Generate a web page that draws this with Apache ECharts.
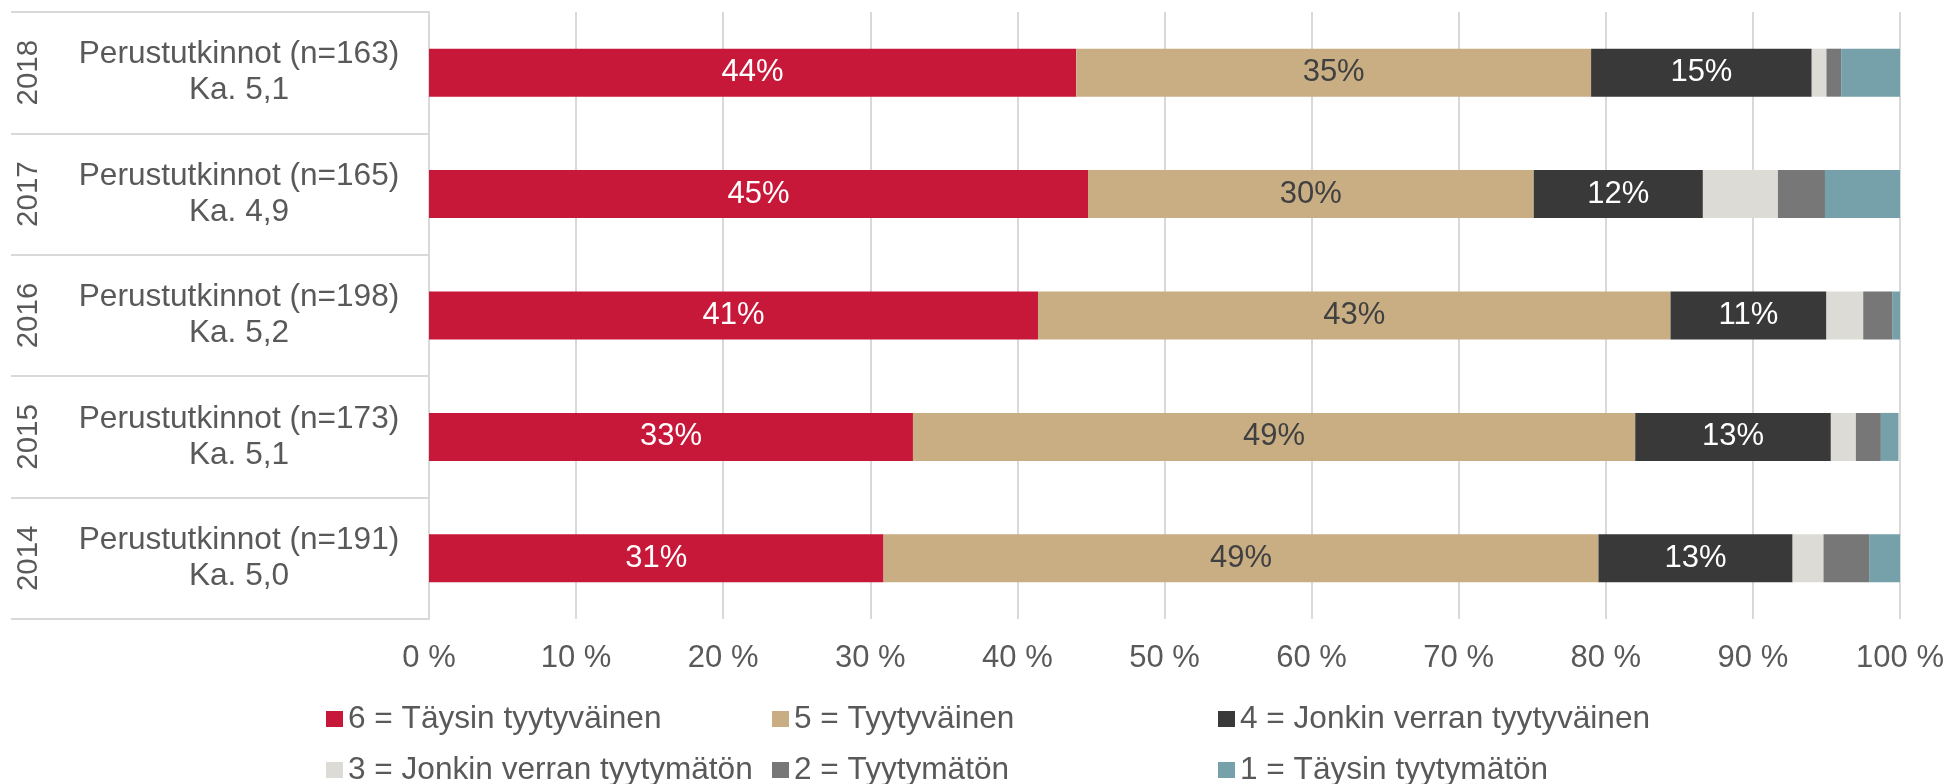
<!DOCTYPE html>
<html>
<head>
<meta charset="utf-8">
<script src="https://cdn.jsdelivr.net/npm/echarts@6/dist/echarts.min.js"></script>
<style>
html,body{margin:0;padding:0;background:#fff;}
#chart{width:1949px;height:784px;}
</style>
</head>
<body>
<div id="chart"></div>
<script>
// ---- data ----
const years = ['2018', '2017', '2016', '2015', '2014'];
const groupName = 'Perustutkinnot';
const nValues = [163, 165, 198, 173, 191];
const means = ['5,1', '4,9', '5,2', '5,1', '5,0'];
const seriesNames = [
  '6 = Täysin tyytyväinen',
  '5 = Tyytyväinen',
  '4 = Jonkin verran tyytyväinen',
  '3 = Jonkin verran tyytymätön',
  '2 = Tyytymätön',
  '1 = Täysin tyytymätön'
];
const s6 = [44.0, 44.8, 41.4, 32.9, 30.9];
const s5 = [35.0, 30.3, 43.0, 49.1, 48.6];
const s4 = [15.0, 11.5, 10.6, 13.3, 13.2];
const s3 = [1.0, 5.1, 2.5, 1.7, 2.1];
const s2 = [1.0, 3.2, 2.0, 1.7, 3.1];
const s1 = [4.0, 5.1, 0.5, 1.2, 2.1];
const xTicks = [0, 10, 20, 30, 40, 50, 60, 70, 80, 90, 100];

// ---- styles ----
const colors = ['#C8183A', '#C9AE84', '#393939', '#DCDBD5', '#777777', '#76A1AA'];
const labelColors = ['#FFFFFF', '#404040', '#FFFFFF'];
const textColor = '#595959';
const gridColor = '#D9D9D9';
const FONT = 'Liberation Sans, Arial, sans-serif';
const allSeries = [s6, s5, s4, s3, s2, s1];

const chart = echarts.init(document.getElementById('chart'), null, {renderer: 'canvas'});

const series = allSeries.map((vals, i) => ({
  name: seriesNames[i],
  type: 'bar',
  stack: 'total',
  barWidth: 48,
  yAxisIndex: 0,
  data: vals,
  itemStyle: {color: colors[i]},
  label: {
    show: i < 3,
    position: 'inside',
    color: labelColors[i] || '#fff',
    fontSize: 31,
    fontFamily: FONT,
    formatter: p => Math.round(p.value) + '%'
  },
  emphasis: {disabled: true}
}));

const legendCols = [326, 772, 1218];
const legendRows = [703, 754];
const legends = seriesNames.map((nm, i) => ({
  data: [nm],
  left: legendCols[i % 3],
  top: legendRows[Math.floor(i / 3)],
  padding: 0,
  itemWidth: 17,
  itemHeight: 16,
  icon: 'rect',
  selectedMode: false,
  textStyle: {color: textColor, fontSize: 31.6, fontFamily: FONT}
}));

chart.setOption({
  animation: false,
  backgroundColor: '#fff',
  grid: {left: 429, right: 49, top: 12, bottom: 165, containLabel: false},
  legend: legends,
  xAxis: {
    type: 'value',
    min: xTicks[0],
    max: xTicks[xTicks.length - 1],
    interval: xTicks[1] - xTicks[0],
    axisLine: {show: false},
    axisTick: {show: false},
    splitLine: {show: true, lineStyle: {color: gridColor, width: 2}},
    axisLabel: {
      color: textColor, fontSize: 31, margin: 24,
      fontFamily: FONT,
      formatter: v => v + ' %'
    }
  },
  yAxis: [
    {
      type: 'category',
      data: years,
      inverse: true,
      axisLine: {show: true, lineStyle: {color: gridColor, width: 2}},
      axisTick: {show: true, length: 418, lineStyle: {color: gridColor, width: 2}},
      axisLabel: {
        color: textColor, fontSize: 31.6, lineHeight: 36,
        fontFamily: FONT,
        align: 'center', margin: 190,
        padding: [5, 0, 0, 0],
        formatter: (v, idx) => groupName + ' (n=' + nValues[idx] + ')\nKa. ' + means[idx]
      }
    },
    {
      type: 'category',
      data: years,
      inverse: true,
      position: 'left',
      axisLine: {show: false},
      axisTick: {show: false},
      axisLabel: {
        color: textColor, fontSize: 29.5, rotate: 90,
        fontFamily: FONT,
        align: 'center', verticalAlign: 'middle', margin: 400
      }
    }
  ],
  series: series
});
</script>
</body>
</html>
